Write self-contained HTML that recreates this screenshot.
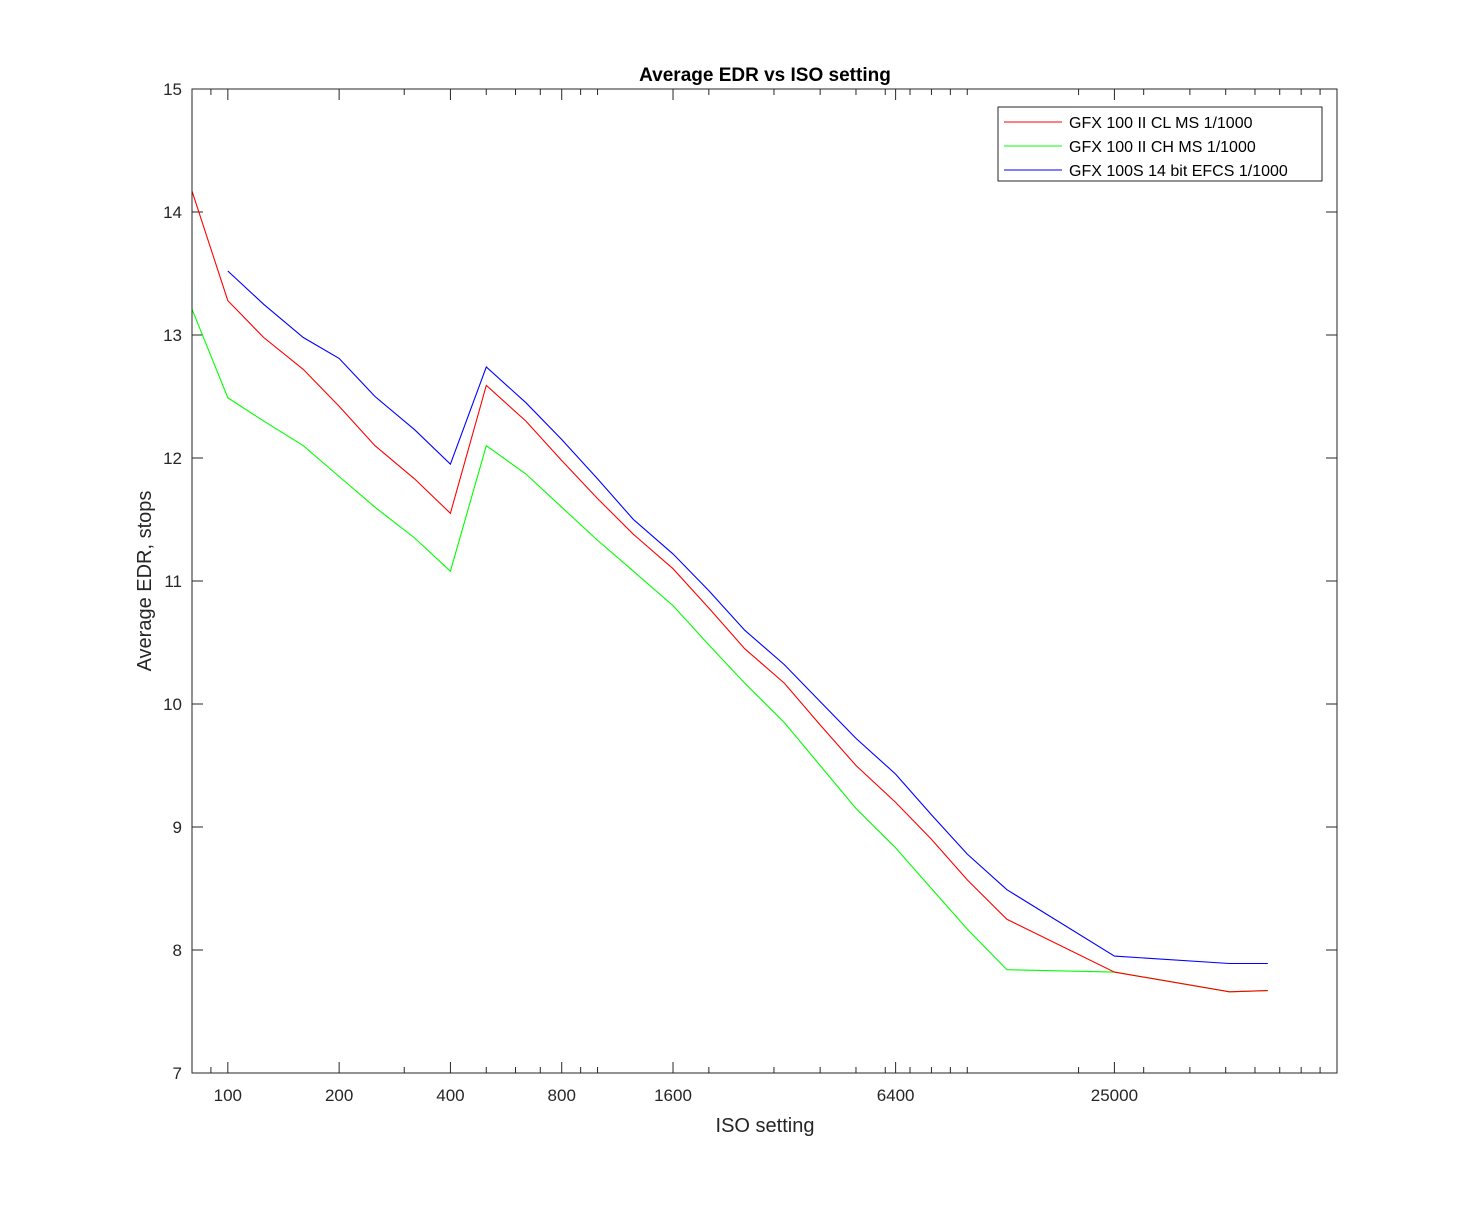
<!DOCTYPE html>
<html><head><meta charset="utf-8"><style>
html,body{margin:0;padding:0;background:#fff;}
svg{display:block;font-family:"Liberation Sans",Arial,sans-serif;}
</style></head><body>
<svg id="chart" width="1479" height="1206" viewBox="0 0 1479 1206">
<rect x="0" y="0" width="1479" height="1206" fill="#fff"/>
<g id="ticks"></g>
<g id="series"></g>
<rect x="192" y="89" width="1145" height="984" fill="none" stroke="#262626" stroke-width="1"/>
<text x="765" y="81" text-anchor="middle" font-size="19" font-weight="bold" fill="#000">Average EDR vs ISO setting</text>
<text x="765" y="1132" text-anchor="middle" font-size="20" fill="#262626">ISO setting</text>
<text x="0" y="0" transform="translate(151,581) rotate(-90)" text-anchor="middle" font-size="20" fill="#262626">Average EDR, stops</text>
<g>
<rect x="998" y="107" width="324" height="74" fill="#fff" stroke="#262626" stroke-width="1"/>
<line x1="1004" y1="122" x2="1062" y2="122" stroke="#ff0000"/>
<text x="1069" y="128" font-size="16" fill="#000">GFX 100 II CL MS 1/1000</text>
<line x1="1004" y1="146" x2="1062" y2="146" stroke="#00ff00"/>
<text x="1069" y="152" font-size="16" fill="#000">GFX 100 II CH MS 1/1000</text>
<line x1="1004" y1="170" x2="1062" y2="170" stroke="#0000ff"/>
<text x="1069" y="176" font-size="16" fill="#000">GFX 100S 14 bit EFCS 1/1000</text>
</g>
</svg>
<script>
const xMajorTicks = [100, 200, 400, 800, 1600, 6400, 25000];
const xMinorTicks = [90, 300, 500, 600, 700, 900, 1000, 2000, 3000, 4000, 5000, 6000, 7000, 8000, 9000, 10000, 20000, 30000, 40000, 50000, 60000, 70000, 80000, 90000];
const yTicks = [7, 8, 9, 10, 11, 12, 13, 14, 15];

const redIso = [80, 100, 125, 160, 200, 250, 320, 400, 500, 640, 800, 1000, 1250, 1600, 2000, 2500, 3200, 4000, 5000, 6400, 8000, 10000, 12800, 25000, 51200, 65000];
const redEdr = [14.17, 13.28, 12.98, 12.72, 12.42, 12.1, 11.83, 11.55, 12.59, 12.3, 11.98, 11.67, 11.38, 11.1, 10.78, 10.45, 10.17, 9.83, 9.5, 9.2, 8.9, 8.57, 8.25, 7.82, 7.66, 7.67];
const greenIso = [80, 80, 100, 125, 160, 200, 250, 320, 400, 500, 640, 800, 1000, 1250, 1600, 2000, 2500, 3200, 4000, 5000, 6400, 8000, 10000, 12800, 25000, 51200, 65000];
const greenEdr = [13.46, 13.21, 12.49, 12.3, 12.1, 11.85, 11.6, 11.35, 11.08, 12.1, 11.87, 11.6, 11.33, 11.08, 10.8, 10.48, 10.17, 9.85, 9.5, 9.15, 8.83, 8.5, 8.17, 7.84, 7.82, 7.66, 7.67];
const blueIso = [100, 125, 160, 200, 250, 320, 400, 500, 640, 800, 1000, 1250, 1600, 2000, 2500, 3200, 4000, 5000, 6400, 8000, 10000, 12800, 25000, 51200, 65000];
const blueEdr = [13.52, 13.25, 12.98, 12.81, 12.5, 12.23, 11.95, 12.74, 12.45, 12.15, 11.83, 11.5, 11.22, 10.92, 10.6, 10.32, 10.02, 9.72, 9.43, 9.1, 8.78, 8.49, 7.95, 7.89, 7.89];

const L = 192, R = 1337, T = 89, B = 1073;
const xMin = 80, xMax = 100000, yMin = 7, yMax = 15;
function xs(v){ return L + (Math.log2(v) - Math.log2(xMin)) / (Math.log2(xMax) - Math.log2(xMin)) * (R - L); }
function ys(v){ return B - (v - yMin) / (yMax - yMin) * (B - T); }
const NS = "http://www.w3.org/2000/svg";
const tg = document.getElementById("ticks");
const sg = document.getElementById("series");
function line(x1,y1,x2,y2){
  const l = document.createElementNS(NS,"line");
  l.setAttribute("x1",x1); l.setAttribute("y1",y1); l.setAttribute("x2",x2); l.setAttribute("y2",y2);
  l.setAttribute("stroke","#262626"); l.setAttribute("stroke-width","1");
  tg.appendChild(l); return l;
}
xMajorTicks.forEach(v => {
  const x = xs(v);
  const a = line(x,B,x,B-11);
  
  
  const b = line(x,T,x,T+11);
  
  
  const t = document.createElementNS(NS,"text");
  t.setAttribute("x",x); t.setAttribute("y",B+28);
  t.setAttribute("text-anchor","middle"); t.setAttribute("font-size","17"); t.setAttribute("fill","#262626");
  t.textContent = v;
  
  
  tg.appendChild(t);
});
xMinorTicks.forEach(v => {
  const x = xs(v);
  if (x < L || x > R) return;
  const a = line(x,B,x,B-6);
  
  
  const b = line(x,T,x,T+6);
  
  
});
yTicks.forEach(v => {
  const y = ys(v);
  const a = line(L,y,L+11,y);
  
  
  const b = line(R,y,R-11,y);
  
  
  const t = document.createElementNS(NS,"text");
  t.setAttribute("x",L-10); t.setAttribute("y",y+6);
  t.setAttribute("text-anchor","end"); t.setAttribute("font-size","17"); t.setAttribute("fill","#262626");
  t.textContent = v;
  
  
  tg.appendChild(t);
});
function series(isos, vals, color, name){
  const p = document.createElementNS(NS,"polyline");
  p.setAttribute("points", isos.map((v,i)=>xs(v).toFixed(1)+","+ys(vals[i]).toFixed(1)).join(" "));
  p.setAttribute("fill","none"); p.setAttribute("stroke",color); p.setAttribute("stroke-width","1.1");
  
  
  sg.appendChild(p);
}
series(greenIso, greenEdr, "#00ff00", "series-gfx100ii-ch");
series(blueIso, blueEdr, "#0000ff", "series-gfx100s");
series(redIso, redEdr, "#ff0000", "series-gfx100ii-cl");
</script>
</body></html>
